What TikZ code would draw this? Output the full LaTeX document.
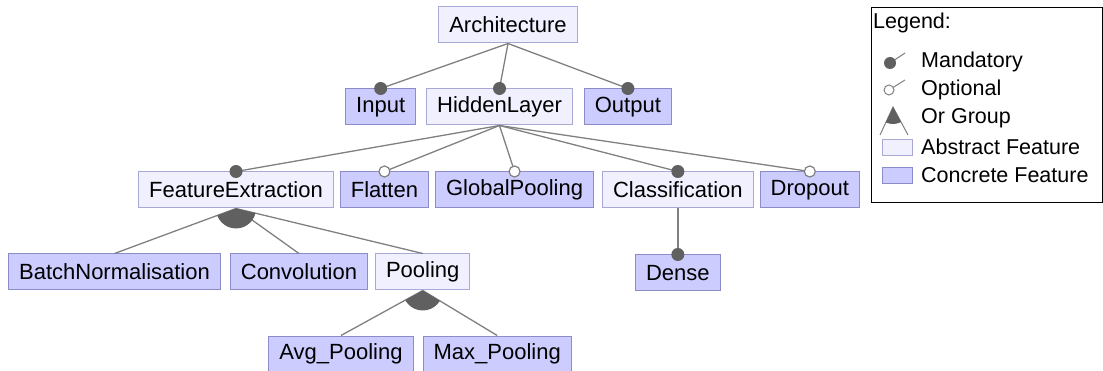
\documentclass[tikz,border=0pt]{standalone}
\usepackage{fontspec}
\setmainfont{Liberation Sans}
\usetikzlibrary{positioning}

\definecolor{absfill}{RGB}{240,240,255}
\definecolor{absline}{RGB}{168,168,212}
\definecolor{confill}{RGB}{204,204,255}
\definecolor{conline}{RGB}{140,140,200}
\definecolor{edgegray}{RGB}{128,128,128}
\definecolor{dotgray}{RGB}{96,96,96}

\tikzset{
  feat/.style={draw, line width=1pt, minimum height=36pt, inner xsep=10.5pt,
    font=\fontsize{22}{26}\selectfont},
  abstract/.style={feat, fill=absfill, draw=absline},
  concrete/.style={feat, fill=confill, draw=conline},
  edge/.style={draw=edgegray, line width=1.3pt},
  mandot/.style={fill=dotgray},
  optdot/.style={fill=white, draw=edgegray, line width=1.2pt},
  legtext/.style={anchor=west, inner sep=0pt, font=\fontsize{21.5}{25}\selectfont}
}

\begin{document}
\begin{tikzpicture}[x=1pt, y=-1pt]
      \useasboundingbox (0,0) rectangle (1103,371);

      % root and first level
      \node[abstract] (arch) at (508,25) {Architecture};
      \node[abstract] (hid) at (499.5,107) {HiddenLayer};
      \node[concrete, left=10pt of hid] (inp) {Input};
      \node[concrete, right=11pt of hid] (outp) {Output};

      % hidden layer children
      \node[abstract] (fe) at (236,190) {FeatureExtraction};
      \node[concrete, right=6pt of fe] (flat) {Flatten};
      \node[concrete, right=6pt of flat] (gp) {GlobalPooling};
      \node[abstract, right=8pt of gp] (cls) {Classification};
      \node[concrete, right=6pt of cls] (drop) {Dropout};

      % feature extraction children
      \node[concrete] (bn) at (114.5,272) {BatchNormalisation};
      \node[concrete, right=9pt of bn] (conv) {Convolution};
      \node[abstract, right=7pt of conv] (pool) {Pooling};
      \node[concrete, below=46pt of cls] (dense) {Dense};

      % pooling children
      \node[concrete] (avg) at (341,354) {Avg\_Pooling};
      \node[concrete, right=9pt of avg] (max) {Max\_Pooling};

      % mandatory and optional edges
      \draw[edge] (arch.south) -- (inp.north);
      \draw[edge] (arch.south) -- (hid.north);
      \draw[edge] (arch.south) -- (outp.north);
      \draw[edge] (hid.south) -- (fe.north);
      \draw[edge] (hid.south) -- (flat.north);
      \draw[edge] (hid.south) -- (gp.north);
      \draw[edge] (hid.south) -- (cls.north);
      \draw[edge] (hid.south) -- (drop.north);
      \draw[edge] (cls.south) -- (dense.north);

      \fill[mandot] (inp.north) circle (6.5pt);
      \fill[mandot] (hid.north) circle (6.5pt);
      \fill[mandot] (outp.north) circle (6.5pt);
      \fill[mandot] (fe.north) circle (6.5pt);
      \fill[mandot] (cls.north) circle (6.5pt);
      \fill[mandot] (dense.north) circle (6.5pt);
      \filldraw[optdot] (flat.north) circle (5.5pt);
      \filldraw[optdot] (gp.north) circle (5.5pt);
      \filldraw[optdot] (drop.north) circle (5.5pt);

      % or groups
      \draw[edge] (fe.south) -- (bn.north);
      \draw[edge] (fe.south) -- (conv.north);
      \draw[edge] (fe.south) -- (pool.north);
      \begin{scope}
        \clip (fe.south) -- (bn.north) -- (pool.north) -- cycle;
        \fill[dotgray] (fe.south) circle (20pt);
      \end{scope}

      \draw[edge] (pool.south) -- (avg.north);
      \draw[edge] (pool.south) -- (max.north);
      \begin{scope}
        \clip (pool.south) -- (avg.north) -- (max.north) -- cycle;
        \fill[dotgray] (pool.south) circle (20pt);
      \end{scope}

      % legend
      \node[draw=black, line width=1.3pt, anchor=north west, minimum width=231pt,
        minimum height=195pt] (leg) at (870.5,7) {};
      \node[legtext] (legt) at (873,23) {Legend:};
      \node[legtext] (lmand) at (921,62) {Mandatory};
      \node[legtext] (lopt) at (921,90) {Optional};
      \node[legtext] (lor) at (921,118) {Or Group};
      \node[legtext] (labs) at (921,147) {Abstract Feature};
      \node[legtext] (lcon) at (921,175) {Concrete Feature};

      \coordinate (mdot) at (890,63);
      \coordinate (odot) at (889,90);
      \coordinate (otop) at (893,107);
      \draw[edgegray, line width=1pt] (mdot) -- (905,53);
      \fill[dotgray] (mdot) circle (6pt);
      \draw[edgegray, line width=1pt] (odot) -- (905,80);
      \filldraw[fill=white, draw=edgegray, line width=1pt] (odot) circle (5pt);
      \draw[edgegray, line width=1pt] (880,135) -- (otop) -- (908,135);
      \begin{scope}
        \clip (otop) -- (880,135) -- (908,135) -- cycle;
        \fill[dotgray] (otop) circle (17pt);
      \end{scope}
      \node[draw=absline, fill=absfill, line width=1pt, minimum width=30pt,
        minimum height=16pt, inner sep=0pt] (sabs) at (897,148) {};
      \node[draw=conline, fill=confill, line width=1pt, minimum width=30pt,
        minimum height=16pt, inner sep=0pt] (scon) at (897,176) {};
    \end{tikzpicture}
\end{document}
